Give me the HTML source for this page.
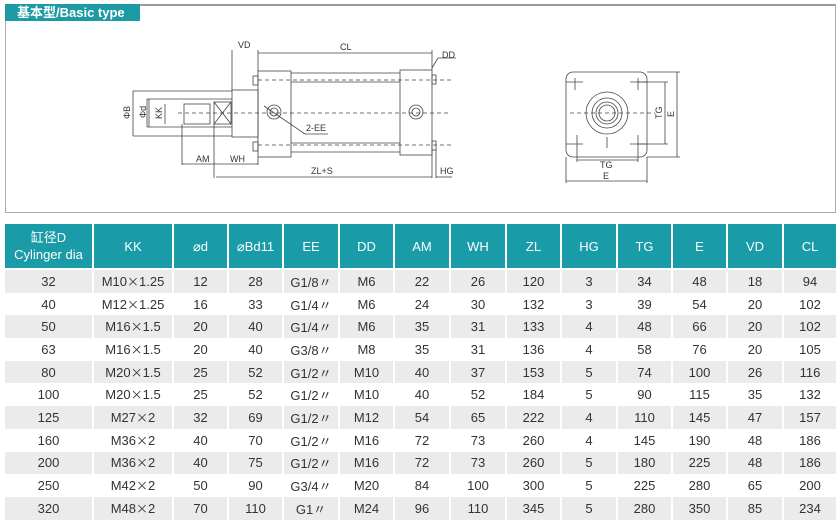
<!DOCTYPE html>
<html><head><meta charset="utf-8"><style>
body{margin:0;width:840px;height:526px;background:#fff;position:relative;overflow:hidden;font-family:"Liberation Sans","Noto Sans CJK SC",sans-serif}
.frame{position:absolute;left:5px;top:4px;width:831px;height:209px;border:1px solid #aaa;border-top:2px solid #999;box-sizing:border-box}
.tab{position:absolute;left:5px;top:4px;width:135px;height:17px;background:#1d9aa4;color:#fff;font-size:13px;font-weight:bold;line-height:17px;padding-left:12px;box-sizing:border-box}
table{position:absolute;left:3px;top:224px;border-collapse:separate;border-spacing:2px 0;table-layout:fixed}
th{background:#1a9ca8;color:#fff;font-weight:normal;font-size:13px;height:44px;padding:0;border-bottom:2px solid #fff;line-height:17px}
td{height:22.7px;padding:0;text-align:center;font-size:13px;color:#333}
tr.g td{background:#ebebeb}
.x{font-family:"Noto Sans CJK SC",sans-serif;font-size:12px}
svg{position:absolute;left:0;top:0}
svg text{font-family:"Liberation Sans",sans-serif;font-size:9px;fill:#333}
</style></head><body>
<div class="frame"></div>
<div class="tab">基本型/Basic type</div>
<svg width="840" height="215" stroke="#444" fill="none" stroke-width="0.8">
<rect x="232" y="90" width="26" height="47"/>
<line x1="133" y1="91" x2="232" y2="91"/><line x1="133" y1="136" x2="232" y2="136"/>
<line x1="147" y1="99" x2="232" y2="99"/><line x1="147" y1="127" x2="232" y2="127"/>
<line x1="147" y1="99" x2="147" y2="127"/>
<rect x="184" y="104" width="26" height="20"/>
<rect x="214" y="102" width="17" height="22"/>
<line x1="214" y1="102" x2="231" y2="124"/><line x1="231" y1="102" x2="214" y2="124"/>
<rect x="258" y="71" width="33" height="86"/>
<rect x="400" y="70" width="32" height="85"/>
<line x1="291" y1="73" x2="400" y2="73"/><line x1="291" y1="82" x2="400" y2="82"/>
<line x1="291" y1="143" x2="400" y2="143"/><line x1="291" y1="152" x2="400" y2="152"/>
<rect x="253" y="76" width="5" height="9"/><rect x="253" y="142" width="5" height="9"/>
<rect x="432" y="75" width="4" height="9"/><rect x="432" y="141" width="4" height="9"/>
<circle cx="274" cy="112" r="7"/><circle cx="274" cy="112" r="4"/>
<circle cx="416" cy="112" r="7"/><circle cx="416" cy="112" r="4"/>
<g stroke-dasharray="4,3"><line x1="178" y1="113" x2="450" y2="113"/><line x1="258" y1="80" x2="452" y2="80"/><line x1="258" y1="145" x2="452" y2="145"/></g>
<line x1="232" y1="50" x2="232" y2="90"/><line x1="258" y1="50" x2="258" y2="71"/><line x1="432" y1="50" x2="432" y2="70"/>
<line x1="258" y1="53" x2="432" y2="53"/><line x1="432" y1="68" x2="438" y2="58"/><line x1="438" y1="58" x2="456" y2="58"/>
<line x1="133" y1="91" x2="133" y2="136"/><line x1="149" y1="99" x2="149" y2="127"/><line x1="165" y1="104" x2="165" y2="124"/>
<line x1="182" y1="124" x2="182" y2="165"/><line x1="214" y1="124" x2="214" y2="178"/><line x1="258" y1="157" x2="258" y2="165"/>
<line x1="182" y1="164" x2="258" y2="164"/><line x1="216" y1="177" x2="432" y2="177"/>
<line x1="432" y1="150" x2="432" y2="178"/><line x1="436" y1="150" x2="436" y2="178"/><line x1="436" y1="177" x2="452" y2="177"/>
<line x1="264" y1="106" x2="305" y2="134"/><line x1="305" y1="134" x2="328" y2="134"/>
<rect x="566" y="72" width="81" height="85" rx="7"/>
<circle cx="607" cy="113" r="21"/><circle cx="607" cy="113" r="15"/><circle cx="607" cy="113" r="11"/><circle cx="607" cy="113" r="8"/>
<line x1="570" y1="113" x2="655" y2="113" stroke-dasharray="4,3"/>
<line x1="566" y1="82" x2="583" y2="82"/><line x1="630" y1="82" x2="647" y2="82"/><line x1="566" y1="144" x2="583" y2="144"/><line x1="630" y1="144" x2="647" y2="144"/>
<line x1="575" y1="78" x2="575" y2="90"/><line x1="638" y1="78" x2="638" y2="90"/><line x1="607" y1="137" x2="607" y2="148"/>
<line x1="577" y1="135" x2="577" y2="162"/><line x1="638" y1="135" x2="638" y2="162"/>
<line x1="577" y1="160" x2="638" y2="160"/><line x1="566" y1="157" x2="566" y2="183"/><line x1="647" y1="157" x2="647" y2="183"/>
<line x1="566" y1="181" x2="647" y2="181"/>
<line x1="638" y1="82" x2="668" y2="82"/><line x1="638" y1="144" x2="668" y2="144"/><line x1="665" y1="82" x2="665" y2="144"/>
<line x1="647" y1="72" x2="680" y2="72"/><line x1="647" y1="157" x2="680" y2="157"/><line x1="677" y1="72" x2="677" y2="157"/>
<g stroke="none">
<text x="238" y="48">VD</text><text x="340" y="50">CL</text><text x="442" y="58">DD</text>
<text x="196" y="162">AM</text><text x="230" y="162">WH</text><text x="311" y="174">ZL+S</text><text x="440" y="174">HG</text>
<text x="306" y="131">2-EE</text>
<text x="600" y="168">TG</text><text x="603" y="179">E</text>
<text transform="translate(130,119) rotate(-90)">ΦB</text><text transform="translate(146,118) rotate(-90)">Φd</text><text transform="translate(162,119) rotate(-90)">KK</text>
<text transform="translate(662,119) rotate(-90)">TG</text><text transform="translate(674,117) rotate(-90)">E</text>
</g>
</svg>
<table>
<colgroup><col style="width:87px"><col style="width:78px"><col style="width:53px"><col style="width:53px"><col style="width:54px"><col style="width:53px"><col style="width:54px"><col style="width:54px"><col style="width:53px"><col style="width:54px"><col style="width:53px"><col style="width:53px"><col style="width:54px"><col style="width:52px"></colgroup>
<tr><th>缸径D<br>Cylinger dia</th><th>KK</th><th>⌀d</th><th>⌀Bd11</th><th>EE</th><th>DD</th><th>AM</th><th>WH</th><th>ZL</th><th>HG</th><th>TG</th><th>E</th><th>VD</th><th>CL</th></tr>
<tr class="g"><td>32</td><td>M10<span class="x">×</span>1.25</td><td>12</td><td>28</td><td>G1/8〃</td><td>M6</td><td>22</td><td>26</td><td>120</td><td>3</td><td>34</td><td>48</td><td>18</td><td>94</td></tr>
<tr><td>40</td><td>M12<span class="x">×</span>1.25</td><td>16</td><td>33</td><td>G1/4〃</td><td>M6</td><td>24</td><td>30</td><td>132</td><td>3</td><td>39</td><td>54</td><td>20</td><td>102</td></tr>
<tr class="g"><td>50</td><td>M16<span class="x">×</span>1.5</td><td>20</td><td>40</td><td>G1/4〃</td><td>M6</td><td>35</td><td>31</td><td>133</td><td>4</td><td>48</td><td>66</td><td>20</td><td>102</td></tr>
<tr><td>63</td><td>M16<span class="x">×</span>1.5</td><td>20</td><td>40</td><td>G3/8〃</td><td>M8</td><td>35</td><td>31</td><td>136</td><td>4</td><td>58</td><td>76</td><td>20</td><td>105</td></tr>
<tr class="g"><td>80</td><td>M20<span class="x">×</span>1.5</td><td>25</td><td>52</td><td>G1/2〃</td><td>M10</td><td>40</td><td>37</td><td>153</td><td>5</td><td>74</td><td>100</td><td>26</td><td>116</td></tr>
<tr><td>100</td><td>M20<span class="x">×</span>1.5</td><td>25</td><td>52</td><td>G1/2〃</td><td>M10</td><td>40</td><td>52</td><td>184</td><td>5</td><td>90</td><td>115</td><td>35</td><td>132</td></tr>
<tr class="g"><td>125</td><td>M27<span class="x">×</span>2</td><td>32</td><td>69</td><td>G1/2〃</td><td>M12</td><td>54</td><td>65</td><td>222</td><td>4</td><td>110</td><td>145</td><td>47</td><td>157</td></tr>
<tr><td>160</td><td>M36<span class="x">×</span>2</td><td>40</td><td>70</td><td>G1/2〃</td><td>M16</td><td>72</td><td>73</td><td>260</td><td>4</td><td>145</td><td>190</td><td>48</td><td>186</td></tr>
<tr class="g"><td>200</td><td>M36<span class="x">×</span>2</td><td>40</td><td>75</td><td>G1/2〃</td><td>M16</td><td>72</td><td>73</td><td>260</td><td>5</td><td>180</td><td>225</td><td>48</td><td>186</td></tr>
<tr><td>250</td><td>M42<span class="x">×</span>2</td><td>50</td><td>90</td><td>G3/4〃</td><td>M20</td><td>84</td><td>100</td><td>300</td><td>5</td><td>225</td><td>280</td><td>65</td><td>200</td></tr>
<tr class="g"><td>320</td><td>M48<span class="x">×</span>2</td><td>70</td><td>110</td><td>G1〃</td><td>M24</td><td>96</td><td>110</td><td>345</td><td>5</td><td>280</td><td>350</td><td>85</td><td>234</td></tr>
</table>
</body></html>
